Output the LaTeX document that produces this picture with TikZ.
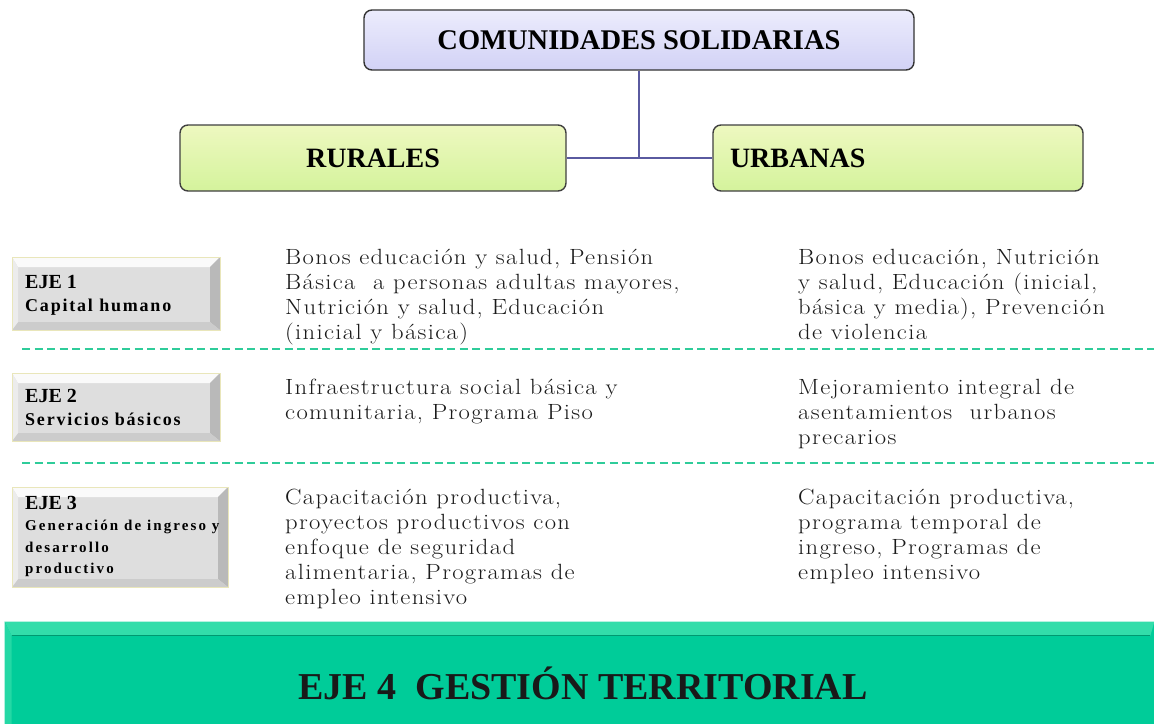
\documentclass[tikz,border=0pt]{standalone}
\usepackage{fontspec}
\newfontfamily\headfont{Liberation Serif}
\newfontfamily\ejefont{Liberation Serif}[LetterSpace=10]
\newfontfamily\ejesmall{Liberation Serif}[LetterSpace=14]
\newfontfamily\bodyfont{Latin Modern Roman}[FakeStretch=1.12, LetterSpace=6]
\usetikzlibrary{calc}
\definecolor{lav}{HTML}{D2D2F6}
\definecolor{lavtop}{HTML}{ECECFC}
\definecolor{grn}{HTML}{D4F39C}
\definecolor{grntop}{HTML}{EEF8C0}
\definecolor{linkc}{HTML}{5A5AA0}
\definecolor{dashc}{HTML}{2FCC9A}
\definecolor{teal4}{HTML}{00CC99}
\definecolor{teal4l}{HTML}{33DDAA}
\definecolor{teal4d}{HTML}{009970}
\definecolor{ejeg}{HTML}{DEDEDE}
\definecolor{bodyc}{HTML}{1A1A1A}
\tikzset{
  headbox/.style={rounded corners=8pt, draw=black!80, line width=1.4pt,
    top color=lavtop, bottom color=lav, inner sep=0pt},
  zonebox/.style={rounded corners=8pt, draw=black!75, line width=1.4pt,
    top color=grntop, bottom color=grn, inner sep=0pt},
  link/.style={draw=linkc, line width=2pt},
  sep/.style={draw=dashc, line width=1.3pt, dash pattern=on 8pt off 4.5pt},
  ejebox/.style={fill=ejeg, inner sep=0pt, draw=yellow!50!gray!40, line width=0.6pt,
    path picture={
      \coordinate (sw) at (path picture bounding box.south west);
      \coordinate (ne) at (path picture bounding box.north east);
      \coordinate (nw) at (path picture bounding box.north west);
      \coordinate (se) at (path picture bounding box.south east);
      \fill[white!96!gray] (nw) -- (ne) -- ([xshift=-10pt,yshift=-10pt]ne) -- ([xshift=6pt,yshift=-10pt]nw) -- cycle;
      \fill[gray!55] (ne) -- (se) -- ([xshift=-10pt,yshift=8pt]se) -- ([xshift=-10pt,yshift=-10pt]ne) -- cycle;
      \fill[gray!40] (se) -- (sw) -- ([xshift=6pt,yshift=8pt]sw) -- ([xshift=-10pt,yshift=8pt]se) -- cycle;
      \fill[white!85!gray] (sw) -- (nw) -- ([xshift=6pt,yshift=-10pt]nw) -- ([xshift=6pt,yshift=8pt]sw) -- cycle;
    }},
  ejetext/.style={font=\ejefont\bfseries\fontsize{18}{23}\selectfont, align=left, anchor=north west, inner sep=0pt, text=black},
  body/.style={font=\bodyfont\fontsize{22}{25}\selectfont, text=bodyc, align=left, anchor=north west, inner sep=0pt},
}
\begin{document}
\begin{tikzpicture}[x=1pt,y=-1pt]
\path[use as bounding box] (0,0) rectangle (1154,723);
\fill[white] (0,0) rectangle (1154,723);

% header boxes
\node[headbox, minimum width=550pt, minimum height=60pt] (top) at (639,40)
  {\headfont\bfseries\fontsize{28.5}{30}\selectfont COMUNIDADES SOLIDARIAS};
\node[zonebox, minimum width=386pt, minimum height=66pt] (rural) at (373,158)
  {\headfont\bfseries\fontsize{28}{30}\selectfont RURALES};
\node[zonebox, minimum width=370pt, minimum height=66pt, text width=336pt, align=left] (urban) at (898,158)
  {\headfont\bfseries\fontsize{28}{30}\selectfont URBANAS};
\draw[link] (top.south) -- (top.south |- rural.east);
\draw[link] (rural.east) -- (urban.west);

% EJE boxes
\node[ejebox, minimum width=208pt, minimum height=73pt] (e1) at (116,293.5) {};
\node[ejetext] (e1t) at (25,275) {{\headfont\fontsize{20}{23}\selectfont EJE 1}\\Capital humano};
\node[ejebox, minimum width=208pt, minimum height=68pt] (e2) at (116,407) {};
\node[ejetext] (e2t) at (25,389) {{\headfont\fontsize{20}{23}\selectfont EJE 2}\\Servicios b\'asicos};
\node[ejebox, minimum width=216pt, minimum height=100pt] (e3) at (120,537) {};
\node[ejetext, font=\ejesmall\bfseries\fontsize{15}{21.5}\selectfont] (e3t) at (25,496) {{\headfont\fontsize{20}{23}\selectfont EJE 3}\\Generaci\'on de ingreso y\\desarrollo\\productivo};

% separators
\coordinate (s1a) at (22,349); \coordinate (s1b) at (1154,349);
\coordinate (s2a) at (22,463); \coordinate (s2b) at (1154,463);
\draw[sep] (s1a) -- (s1b);
\draw[sep] (s2a) -- (s2b);

% body texts
\node[body] (r1) at (285,249) {Bonos educación y salud, Pensión\\Básica\ \ a personas adultas mayores,\\Nutrición y salud, Educación\\(inicial y básica)};
\node[body] (u1) at (798,249) {Bonos educación, Nutrición\\y salud, Educación (inicial,\\básica y media), Prevención\\de violencia};
\node[body] (r2) at (285,379) {Infraestructura social básica y\\comunitaria, Programa Piso};
\node[body] (u2) at (798,379) {Mejoramiento integral de\\asentamientos\ \ urbanos\\precarios};
\node[body] (r3) at (285,489) {Capacitación productiva,\\proyectos productivos con\\enfoque de seguridad\\alimentaria, Programas de\\empleo intensivo};
\node[body] (u3) at (798,489) {Capacitación productiva,\\programa temporal de\\ingreso, Programas de\\empleo intensivo};

% EJE 4 bar
\node[fill=teal4, draw=teal4d, line width=0.8pt, minimum width=1149pt, minimum height=122pt, inner sep=0pt] (e4) at (579.5,683) {};
\fill[teal4l] (e4.north west) -- (e4.north east) -- ([xshift=-4pt,yshift=-14pt]e4.north east) -- ([xshift=7pt,yshift=-14pt]e4.north west) -- cycle;
\fill[teal4l!70!teal4] (e4.north west) -- ([xshift=7pt,yshift=-14pt]e4.north west) -- ([xshift=7pt]e4.south west) -- (e4.south west) -- cycle;
\draw[teal4d, line width=0.8pt] ([xshift=7pt,yshift=-14pt]e4.north west) -- ([xshift=-4pt,yshift=-14pt]e4.north east);
\node[font=\headfont\bfseries\fontsize{38}{40}\selectfont, text=black!90] (e4t) at (583,683) {EJE 4\ \ GESTIÓN TERRITORIAL};
\end{tikzpicture}
\end{document}
